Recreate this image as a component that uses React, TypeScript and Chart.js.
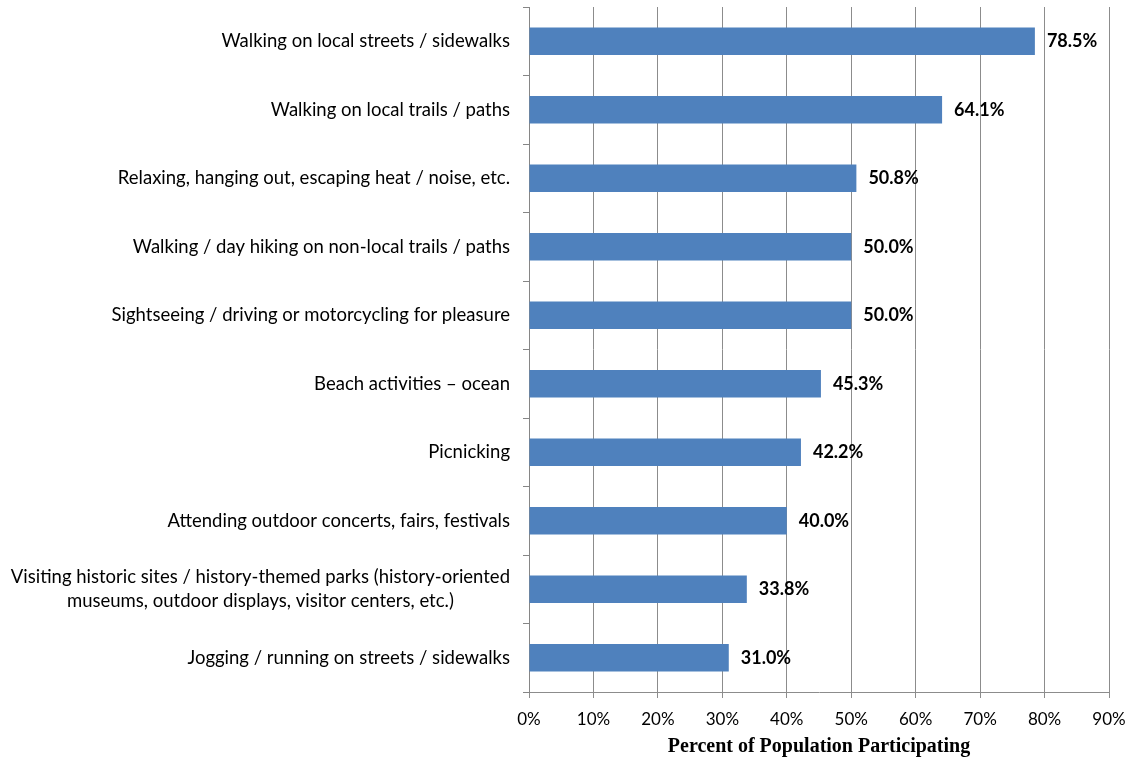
import React, { useEffect, useRef } from "react";
import { Chart, registerables } from "chart.js";

Chart.register(...registerables);

const categories: (string | string[])[] = [
  "Walking on local streets / sidewalks",
  "Walking on local trails / paths",
  "Relaxing, hanging out, escaping heat / noise, etc.",
  "Walking / day hiking on non-local trails / paths",
  "Sightseeing / driving or motorcycling for pleasure",
  "Beach activities \u2013 ocean",
  "Picnicking",
  "Attending outdoor concerts, fairs, festivals",
  ["Visiting historic sites / history-themed parks (history-oriented", "museums, outdoor displays, visitor centers, etc.)"],
  "Jogging / running on streets / sidewalks",
];

const values: number[] = [78.5, 64.1, 50.8, 50.0, 50.0, 45.3, 42.2, 40.0, 33.8, 31.0];

const xTicks: number[] = [0, 10, 20, 30, 40, 50, 60, 70, 80, 90];

const axisTitle = "Percent of Population Participating";

const LABEL_FONT = "18.5px Lato";
const VALUE_FONT = "bold 18px Lato";
const TICK_LEN = 6;
const LABEL_PAD = 13;
const LINE_H = 24;

const labelPlugin = {
  id: "customLabels",
  afterDraw(chart: any) {
    const ctx = chart.ctx;
    const yScale = chart.scales.y;
    ctx.save();
    ctx.fillStyle = "#000";
    ctx.textBaseline = "middle";
    ctx.font = LABEL_FONT;
    categories.forEach((lab, i) => {
      const lines = Array.isArray(lab) ? lab : [lab];
      const y = yScale.getPixelForValue(i);
      const widths = lines.map((l) => ctx.measureText(l).width);
      const maxW = Math.max(...widths);
      const right = yScale.right - TICK_LEN - LABEL_PAD;
      const center = right - maxW / 2;
      ctx.textAlign = "center";
      lines.forEach((l, j) => {
        const ly = y + (j - (lines.length - 1) / 2) * LINE_H;
        ctx.fillText(l, center, ly);
      });
    });
    ctx.font = VALUE_FONT;
    ctx.textAlign = "left";
    const meta = chart.getDatasetMeta(0);
    meta.data.forEach((el: any, i: number) => {
      ctx.fillText(values[i].toFixed(1) + "%", el.x + 12, el.y);
    });
    ctx.restore();
  },
};

export default function App() {
  const ref = useRef<HTMLCanvasElement | null>(null);
  useEffect(() => {
    document.body.style.margin = "0";
    const canvas = ref.current!;
    const chart = new Chart(canvas, {
      type: "bar",
      data: {
        labels: categories as any,
        datasets: [
          {
            data: values,
            backgroundColor: "#4F81BD",
            borderWidth: 0,
            categoryPercentage: 1,
            barPercentage: 0.4,
          },
        ],
      },
      options: {
        indexAxis: "y",
        animation: false,
        responsive: false,
        layout: { padding: { left: 0, top: 7, right: 25, bottom: 0 } },
        plugins: {
          legend: { display: false },
          tooltip: { enabled: false },
        },
        scales: {
          x: {
            type: "linear",
            min: 0,
            max: 90,
            afterBuildTicks: (scale: any) => {
              scale.ticks = xTicks.map((v) => ({ value: v }));
            },
            afterFit: (scale: any) => {
              scale.height = 70;
              scale.paddingLeft = 0;
              scale.paddingRight = 0;
            },
            ticks: {
              color: "#000",
              font: { family: "Lato", size: 17 },
              padding: 11,
              maxRotation: 0,
              callback: (v: any) => v + "%",
            },
            grid: {
              color: "#8c8c8c",
              lineWidth: 1,
              drawTicks: true,
              tickLength: TICK_LEN,
            },
            border: { color: "#8c8c8c", width: 1 },
            title: {
              display: true,
              text: axisTitle,
              color: "#000",
              font: { family: "Times New Roman, Liberation Serif, serif", size: 20, weight: "bold" },
              padding: { top: 2, bottom: 3 },
            },
          },
          y: {
            type: "category",
            afterFit: (scale: any) => {
              scale.width = 529;
              scale.paddingTop = 0;
              scale.paddingBottom = 0;
            },
            ticks: { display: false },
            grid: {
              offset: true,
              drawOnChartArea: false,
              drawTicks: true,
              tickLength: TICK_LEN,
              color: "#868686",
            },
            border: { color: "#868686", width: 1 },
          },
        },
      },
      plugins: [labelPlugin],
    });
    return () => chart.destroy();
  }, []);
  return <canvas ref={ref} width={1134} height={762} style={{ display: "block" }} />;
}
